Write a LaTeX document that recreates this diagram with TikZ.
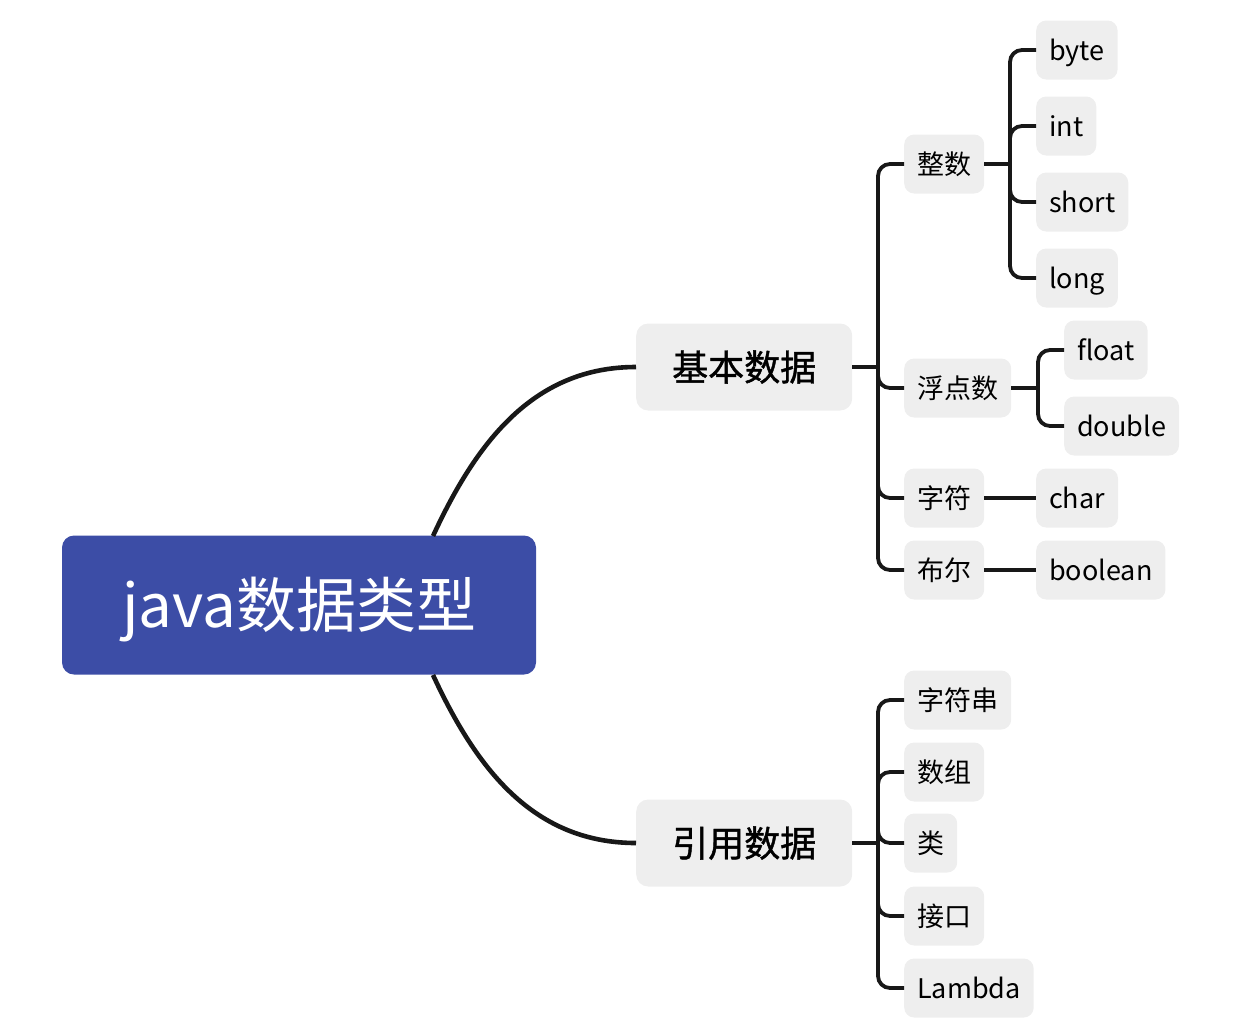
\documentclass[tikz,border=0pt]{standalone}
\usepackage{fontspec}
\setmainfont{Noto Sans CJK SC}
\newfontfamily\medfont{Noto Sans CJK SC}[FakeBold=1.2]
\usetikzlibrary{positioning}
\definecolor{rootblue}{RGB}{60,77,166}
\definecolor{boxgray}{RGB}{238,238,238}
\definecolor{linedark}{RGB}{24,24,24}
\tikzset{
  topic/.style={fill=boxgray, rounded corners=10pt, anchor=west, inner xsep=13pt, inner ysep=0pt,
    minimum height=59pt, text height=23.8pt, text depth=3.2pt, font=\fontsize{27}{27}\selectfont},
  maintopic/.style={topic, rounded corners=12pt, inner xsep=36pt, minimum height=87pt,
    text height=31.7pt, text depth=4.3pt, font=\fontsize{36}{36}\medfont},
  roottopic/.style={fill=rootblue, text=white, rounded corners=12pt, minimum width=474pt,
    minimum height=139pt, text height=52.8pt, text depth=7.2pt, font=\fontsize{60}{60}\selectfont},
  link/.style={draw=linedark, line width=3.8pt, rounded corners=12pt},
  branch/.style={draw=linedark, line width=4.6pt},
}
\begin{document}
\begin{tikzpicture}[x=1pt, y=-1pt]
\useasboundingbox (0,0) rectangle (1250,1034);

\node[roottopic] (root) at (299,605) {java数据类型};
\node[maintopic] (basic) at (636,367) {基本数据};
\node[maintopic] (refer) at (636,843) {引用数据};

\node[topic] (integer) at (904,164) {整数};
\node[topic] (floating) at (904,388) {浮点数};
\node[topic] (character) at (904,498) {字符};
\node[topic] (logical) at (904,570) {布尔};

\node[topic] (byte) at (1036,50) {byte};
\node[topic] (int) at (1036,126) {int};
\node[topic] (short) at (1036,202) {short};
\node[topic] (long) at (1036,278) {long};
\node[topic] (float) at (1064,350) {float};
\node[topic] (double) at (1064,426) {double};
\node[topic] (char) at (1036,498) {char};
\node[topic] (boolean) at (1036,570) {boolean};

\node[topic] (string) at (904,700) {字符串};
\node[topic] (array) at (904,772) {数组};
\node[topic] (class) at (904,843) {类};
\node[topic] (iface) at (904,916) {接口};
\node[topic] (lambda) at (904,988) {Lambda};

% root to main topics
\coordinate (rtop) at (433,536);
\coordinate (rbot) at (433,675);
\draw[branch] (rtop) .. controls +(43,-93) and +(-103,0) .. (basic.west);
\draw[branch] (rbot) .. controls +(43,93) and +(-103,0) .. (refer.west);

% basic data
\coordinate (bj) at (878,367);
\draw[link] (basic.east) -- (bj);
\foreach \n in {integer, floating, character, logical}
  \draw[link] (bj) |- (\n.west);

\coordinate (ij) at (1010,164);
\draw[link] (integer.east) -- (ij);
\foreach \n in {byte, int, short, long}
  \draw[link] (ij) |- (\n.west);

\coordinate (fj) at (1038,388);
\draw[link] (floating.east) -- (fj);
\foreach \n in {float, double}
  \draw[link] (fj) |- (\n.west);

\draw[link] (character.east) -- (char.west);
\draw[link] (logical.east) -- (boolean.west);

% reference data
\coordinate (rj) at (878,843);
\draw[link] (refer.east) -- (rj);
\foreach \n in {string, array, class, iface, lambda}
  \draw[link] (rj) |- (\n.west);

\end{tikzpicture}
\end{document}
